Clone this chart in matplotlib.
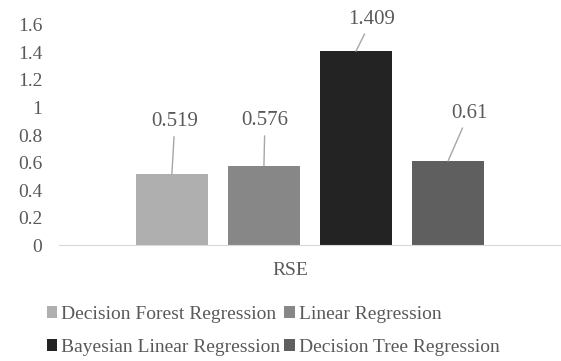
import matplotlib.pyplot as plt
import numpy as np

# data
models = ["Decision Forest Regression", "Linear Regression",
          "Bayesian Linear Regression", "Decision Tree Regression"]
rse = [0.519, 0.576, 1.409, 0.61]
category = "RSE"

colors = ["#afafaf", "#878787", "#232323", "#5f5f5f"]
# label offsets from bar top (pixels), like the leader lines in the original
label_offsets = [(3, 52), (1, 45), (16, 32), (21, 48)]

plt.rcParams["font.family"] = ["Liberation Serif", "DejaVu Serif"]
text_color = "#595959"

fig = plt.figure(figsize=(5.61, 3.61), dpi=100)
ax = fig.add_axes([0.105, 0.321, 0.895, 0.61])

width = 0.1434
step = 0.1833
xs = (np.arange(len(models)) - (len(models) - 1) / 2) * step
for x, v, c, name in zip(xs, rse, colors, models):
    ax.bar(x, v, width=width, color=c, label=name)

for x, v, (dx, dy) in zip(xs, rse, label_offsets):
    ax.annotate(f"{v:g}", xy=(x, v), xytext=(dx, dy), textcoords="offset pixels",
                ha="center", va="center", fontsize=15, color=text_color,
                arrowprops=dict(arrowstyle="-", color="#a6a6a6", lw=1,
                                shrinkA=2, shrinkB=0))

ax.set_xlim(-0.5, 0.5)
ax.set_ylim(0, 1.6)
ax.set_yticks(np.arange(0, 1.61, 0.2))
ax.set_yticklabels(["0", "0.2", "0.4", "0.6", "0.8", "1", "1.2", "1.4", "1.6"])
ax.set_xticks([-0.04])
ax.set_xticklabels([category])
ax.tick_params(length=0, labelsize=14, labelcolor=text_color)
ax.tick_params(axis="y", pad=12)
ax.tick_params(axis="x", pad=12)
for s in ["top", "right", "left"]:
    ax.spines[s].set_visible(False)
ax.spines["bottom"].set_color("#d9d9d9")

# reorder so rows read DFR, LR / BLR, DTR
order = [0, 2, 1, 3]
handles, labels = ax.get_legend_handles_labels()
fig.legend([handles[i] for i in order], [labels[i] for i in order],
           ncol=2, loc="lower left", bbox_to_anchor=(0.052, -0.035),
           frameon=False, fontsize=14, labelcolor=text_color,
           handlelength=0.55, handleheight=0.55, handletextpad=0.2,
           columnspacing=0.2, labelspacing=0.85)

fig.savefig("out.png", dpi=100)
